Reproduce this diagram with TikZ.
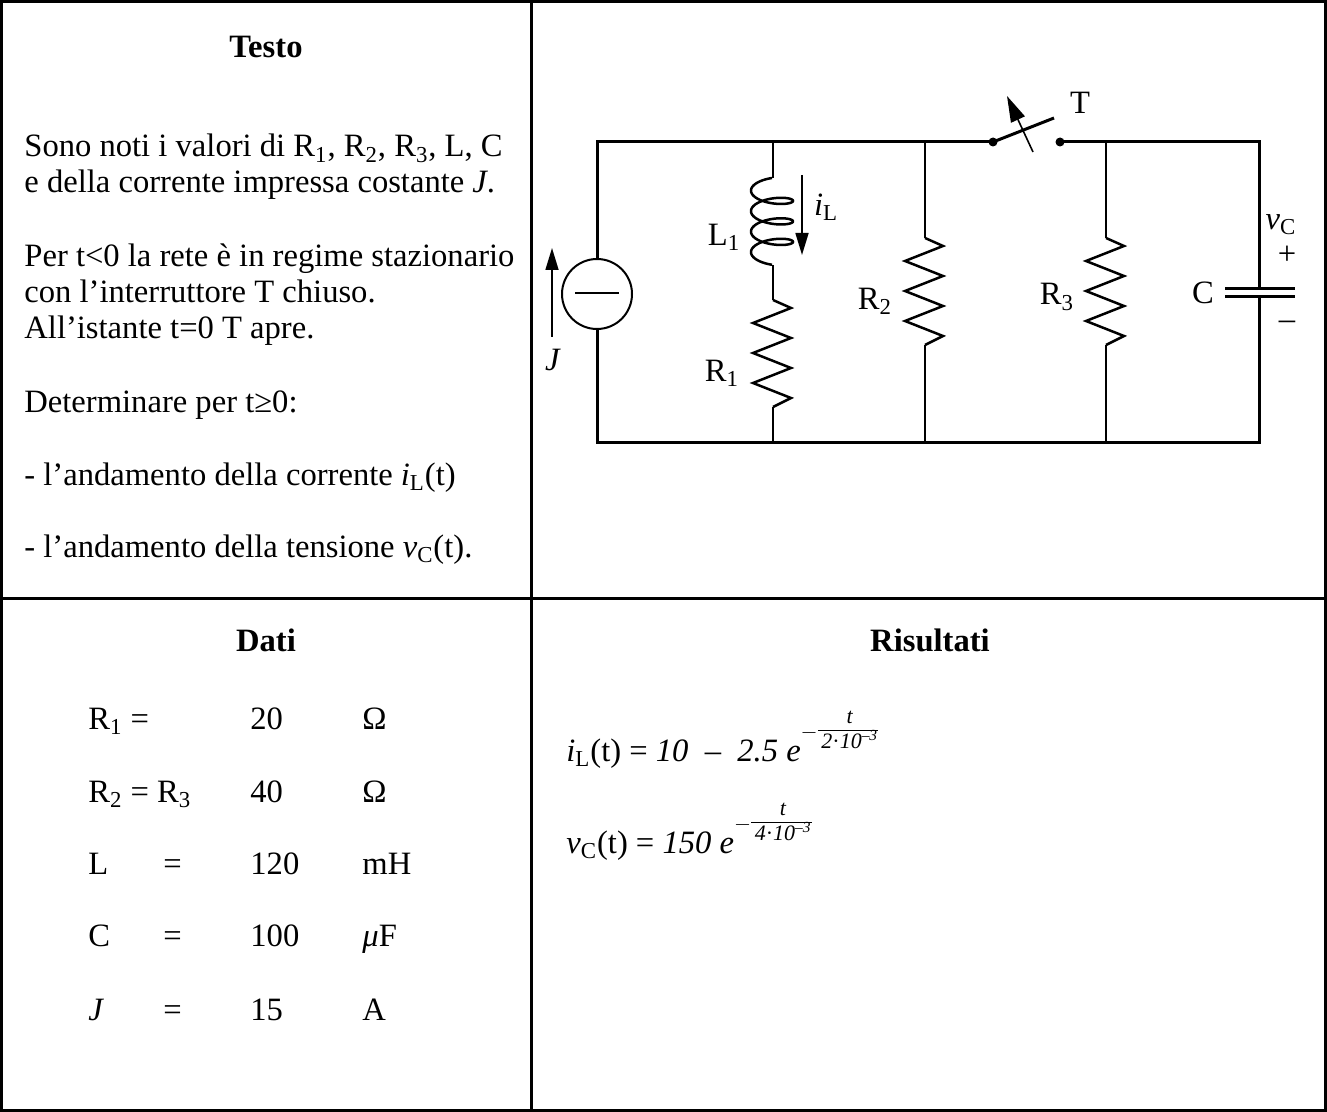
\documentclass[tikz,border=0pt]{standalone}
\usepackage{amsmath}
\usepackage{fontspec}
\setmainfont{Liberation Serif}
\usetikzlibrary{arrows.meta}
\newcommand{\sbs}[1]{\textsubscript{#1}}
\newcommand{\expo}[1]{\raisebox{11.5pt}{\fontsize{11}{11}\selectfont$-$\renewcommand\arraystretch{0.85}\begin{tabular}{@{\,}c@{}}\textit{t}\\\hline\textit{#1}·\textit{10}\textsuperscript{\textit{–3}}\end{tabular}}}
\begin{document}
\begin{tikzpicture}[x=0.5pt,y=-0.5pt,
  every node/.style={font=\fontsize{16.3}{19}\selectfont, inner sep=0pt},
  txt/.style={anchor=base west},
  lbl/.style={anchor=center},
  head/.style={anchor=base, font=\fontsize{16.3}{19}\selectfont\bfseries},
  frame/.style={line width=1.5pt},
  mainw/.style={line width=1.5pt},
  brw/.style={line width=0.75pt},
  resw/.style={line width=1.25pt},
  arr/.style={line width=0.8pt, -{Triangle[length=11pt,width=6.5pt]}},
  dot/.style={circle, fill=black, minimum size=4.5pt, inner sep=0pt},
  res/.pic={\draw[resw] (0,0) -- (18,8) -- (-20,23) -- (18,38) -- (-20,53) -- (18,68) -- (-20,83) -- (18,98) -- (0,107);}
]
\useasboundingbox (0,0) rectangle (1327,1112);
% frame
\draw[frame] (1.5,1.5) rectangle (1325.5,1110.5);
\draw[frame] (531,1.5) -- (531,598);
\draw[frame] (1.5,598) -- (1325.5,598);
\draw[frame] (531,598) -- (531,1110.5);

% Testo
\node[head] (testo) at (266,58) {Testo};
\node[txt] (t1) at (24,157) {Sono noti i valori di R\sbs{1}, R\sbs{2}, R\sbs{3}, L, C};
\node[txt] (t2) at (24,193) {e della corrente impressa costante \textit{J}.};
\node[txt] (t3) at (24,267) {Per t<0 la rete è in regime stazionario};
\node[txt] (t4) at (24,303) {con l’interruttore T chiuso.};
\node[txt] (t5) at (24,339) {All’istante t=0 T apre.};
\node[txt] (t6) at (24,413) {Determinare per t≥0:};
\node[txt] (t7) at (24,485) {- l’andamento della corrente \textit{i}\sbs{L}(t)};
\node[txt] (t8) at (24,557) {- l’andamento della tensione \textit{v}\sbs{C}(t).};

% Dati
\node[head] (dati) at (266,651) {Dati};
\node[txt] (d1a) at (88,729) {R\sbs{1} =};
\node[txt] (d1b) at (250,729) {20};
\node[txt] (d1c) at (362,729) {Ω};
\node[txt] (d2a) at (88,802) {R\sbs{2} = R\sbs{3}};
\node[txt] (d2b) at (250,802) {40};
\node[txt] (d2c) at (362,802) {Ω};
\node[txt] (d3a) at (88,874) {L};
\node[txt] (d3e) at (163,874) {=};
\node[txt] (d3b) at (250,874) {120};
\node[txt] (d3c) at (362,874) {mH};
\node[txt] (d4a) at (88,946) {C};
\node[txt] (d4e) at (163,946) {=};
\node[txt] (d4b) at (250,946) {100};
\node[txt] (d4c) at (362,946) {\textit{μ}F};
\node[txt] (d5a) at (88,1020) {\textit{J}};
\node[txt] (d5e) at (163,1020) {=};
\node[txt] (d5b) at (250,1020) {15};
\node[txt] (d5c) at (362,1020) {A};

% Risultati
\node[head] (ris) at (930,651) {Risultati};
\node[txt] (f1) at (566,761) {\textit{i}\sbs{L}(t) = \textit{10}\ \ –\ \ \textit{2.5 e}\expo{2}};
\node[txt] (f2) at (566,853) {\textit{v}\sbs{C}(t) = \textit{150 e}\expo{4}};

% ---------------- circuit ----------------
\coordinate (TL) at (597,142);
\coordinate (BL) at (597,442);
\coordinate (TR) at (1259,142);
\coordinate (BR) at (1259,442);
\coordinate (SwA) at (993,142);
\coordinate (SwB) at (1060,142);
\coordinate (SwTip) at (1054,118);
\coordinate (TLa) at (773,142);
\coordinate (BLa) at (773,442);
\coordinate (TR2) at (925,142);
\coordinate (BR2) at (925,442);
\coordinate (TR3) at (1106,142);
\coordinate (BR3) at (1106,442);

% outer wires
\draw[mainw] (SwA) -- (TL) -- (BL) -- (BR) -- (TR) -- (SwB);
% current source
\node[circle, draw, line width=1pt, minimum size=35pt, fill=white] (J) at (597,294) {};
\draw[line width=1pt] (575,293) -- (619,293);
\coordinate (Ja) at (552,337);
\coordinate (Jb) at (552,248);
\draw[arr] (Ja) -- (Jb);
\node[lbl] (Jl) at (553,360) {\textit{J}};

% switch
\node[dot] (sa) at (SwA) {};
\node[dot] (sb) at (SwB) {};
\draw[line width=1.5pt] (sa.center) -- (SwTip);
\coordinate (Sa1) at (1033,152);
\coordinate (Sa2) at (1007,96);
\draw[line width=0.8pt, -{Triangle[length=13pt,width=7.5pt]}] (Sa1) -- (Sa2);
\node[lbl] (Tl) at (1080,103) {T};

% branch L1 R1
\coordinate (L1a) at (773,178);
\coordinate (L1b) at (773,265);
\coordinate (R1a) at (773,300);
\coordinate (R1b) at (773,407);
\draw[brw] (TLa) -- (L1a);
\draw[line width=1.25pt] plot[domain=0:7*pi, samples=300, variable=\s] ({772 - 21*sin(\s r)}, {178 + 20.5*\s/(2*pi) + 7.5*(1-cos(\s r))});
\draw[brw] (L1b) -- (R1a);
\pic at (R1a) {res};
\draw[brw] (R1b) -- (BLa);
\node[lbl] (L1l) at (724,237) {L\sbs{1}};
\node[lbl] (R1l) at (722,373) {R\sbs{1}};
\coordinate (iLa) at (802,175);
\coordinate (iLb) at (802,255);
\draw[arr] (iLa) -- (iLb);
\node[lbl] (iLl) at (826,207) {\textit{i}\sbs{L}};

% R2
\coordinate (R2a) at (925,238);
\coordinate (R2b) at (925,345);
\draw[brw] (TR2) -- (R2a);
\pic at (R2a) {res};
\draw[brw] (R2b) -- (BR2);
\node[lbl] (R2l) at (875,301) {R\sbs{2}};

% R3
\coordinate (R3a) at (1106,238);
\coordinate (R3b) at (1106,345);
\draw[brw] (TR3) -- (R3a);
\pic at (R3a) {res};
\draw[brw] (R3b) -- (BR3);
\node[lbl] (R3l) at (1057,297) {R\sbs{3}};

% capacitor
\coordinate (Ca) at (1225,289);
\coordinate (Cb) at (1295,289);
\coordinate (Cc) at (1225,297);
\coordinate (Cd) at (1295,297);
\fill[white] (1250,289) rectangle (1268,297);
\draw[line width=1.5pt] (Ca) -- (Cb);
\draw[line width=1.5pt] (Cc) -- (Cd);
\node[lbl] (Cl) at (1203,293) {C};
\node[lbl] (vCl) at (1281,225) {\textit{v}\sbs{C}};
\node[lbl] (plus) at (1287,255) {+};
\node[lbl] (minus) at (1287,325) {–};
\end{tikzpicture}
\end{document}
